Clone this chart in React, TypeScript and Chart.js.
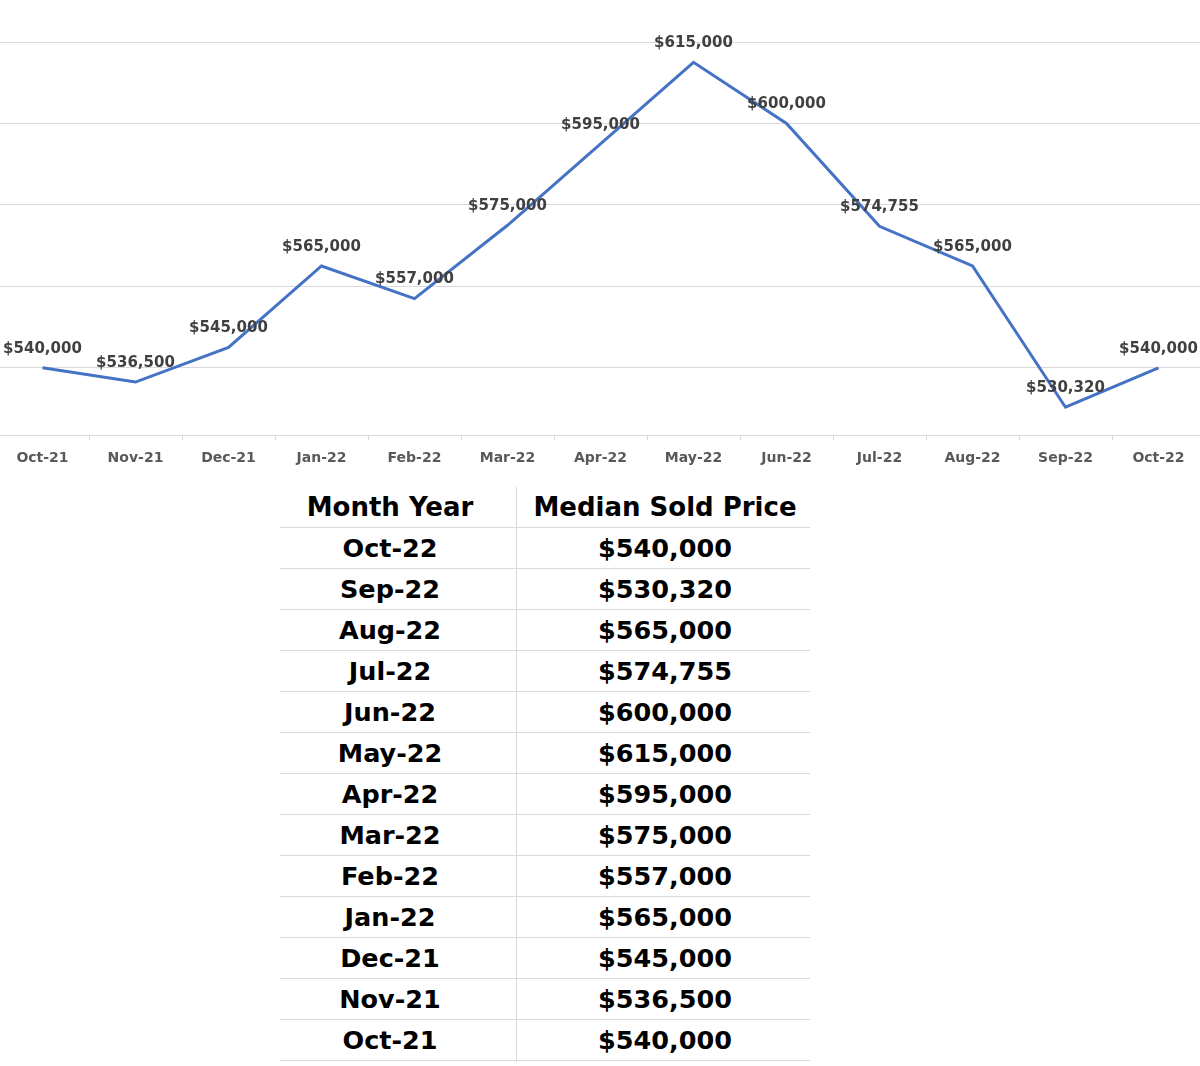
import React, { useEffect, useRef } from "react";
import { Chart, registerables } from "chart.js";

Chart.register(...registerables);

const months = ["Oct-21", "Nov-21", "Dec-21", "Jan-22", "Feb-22", "Mar-22", "Apr-22", "May-22", "Jun-22", "Jul-22", "Aug-22", "Sep-22", "Oct-22"];
const prices = [540000, 536500, 545000, 565000, 557000, 575000, 595000, 615000, 600000, 574755, 565000, 530320, 540000];
const gridValues = [540000, 560000, 580000, 600000, 620000];
const yMin = 523500;
const yMax = 620000;
const tableHeaders = ["Month Year", "Median Sold Price"];

const fmt = (v: number) => "$" + v.toLocaleString("en-US");

const FONT = "'DejaVu Sans', sans-serif";

const labelPlugin = {
  id: "pointLabels",
  afterDatasetsDraw(chart: any) {
    const ctx = chart.ctx;
    const meta = chart.getDatasetMeta(0);
    ctx.save();
    ctx.font = `bold 15px ${FONT}`;
    ctx.fillStyle = "#404040";
    ctx.textAlign = "center";
    ctx.textBaseline = "middle";
    meta.data.forEach((pt: any, i: number) => {
      ctx.fillText(fmt(prices[i]), pt.x, pt.y - 19);
    });
    ctx.restore();
  },
};

export default function App() {
  const ref = useRef<HTMLCanvasElement | null>(null);

  useEffect(() => {
    if (!ref.current) return;
    const chart = new Chart(ref.current, {
      type: "line",
      data: {
        labels: months,
        datasets: [
          {
            data: prices,
            borderColor: "#4472C4",
            borderWidth: 3,
            pointRadius: 0,
            tension: 0,
            fill: false,
          },
        ],
      },
      options: {
        responsive: false,
        animation: false,
        layout: { padding: { top: 42, left: 1, right: 5, bottom: 0 } },
        plugins: { legend: { display: false }, tooltip: { enabled: false } },
        scales: {
          x: {
            type: "category",
            offset: true,
            grid: {
              display: true,
              drawOnChartArea: false,
              drawTicks: true,
              tickLength: 5,
              color: "#d9d9d9",
              offset: true,
            },
            border: { display: true, color: "#d9d9d9", width: 1 },
            ticks: {
              color: "#595959",
              font: { family: FONT, weight: "bold", size: 14 },
              padding: 10,
              maxRotation: 0,
              autoSkip: false,
            },
            afterFit: (s: any) => {
              s.height = 40;
            },
          },
          y: {
            min: yMin,
            max: yMax,
            afterBuildTicks: (s: any) => {
              s.ticks = gridValues.map((v) => ({ value: v }));
            },
            ticks: { display: false },
            grid: { color: "#d9d9d9", drawTicks: false },
            border: { display: false },
            afterFit: (s: any) => {
              s.width = 0;
            },
          },
        },
      } as any,
      plugins: [labelPlugin],
    });
    return () => chart.destroy();
  }, []);

  const rows = months.map((m, i) => ({ m, p: prices[i] })).reverse();
  const rowH = 41;
  const headTop = 486;
  const cellText: React.CSSProperties = {
    position: "absolute",
    height: rowH,
    lineHeight: rowH + "px",
    textAlign: "center",
    fontFamily: FONT,
    fontWeight: "bold",
    color: "#000",
    whiteSpace: "nowrap",
  };

  return (
    <div style={{ position: "absolute", left: 0, top: 0, width: 1200, height: 1066, overflow: "hidden", background: "#fff" }}>
      <canvas ref={ref} width={1215} height={475} style={{ position: "absolute", left: -5, top: 0, width: 1215, height: 475 }} />
      <div style={{ position: "absolute", left: 516, top: 487, width: 1, height: 575, background: "#d9d9d9" }} />
      <div style={{ ...cellText, left: 264, width: 252, top: headTop + 1, fontSize: 26 }}>{tableHeaders[0]}</div>
      <div style={{ ...cellText, left: 518, width: 294, top: headTop + 1, fontSize: 26 }}>{tableHeaders[1]}</div>
      {rows.map((r, k) => (
        <React.Fragment key={r.m}>
          <div style={{ position: "absolute", left: 280, width: 530, top: headTop + rowH * (k + 1), height: 1, background: "#d9d9d9" }} />
          <div style={{ ...cellText, left: 264, width: 252, top: headTop + rowH * (k + 1) + 1, fontSize: 25.5 }}>{r.m}</div>
          <div style={{ ...cellText, left: 518, width: 294, top: headTop + rowH * (k + 1) + 1, fontSize: 25.5 }}>{fmt(r.p)}</div>
        </React.Fragment>
      ))}
      <div style={{ position: "absolute", left: 280, width: 530, top: headTop + rowH * (rows.length + 1), height: 1, background: "#d9d9d9" }} />
    </div>
  );
}
